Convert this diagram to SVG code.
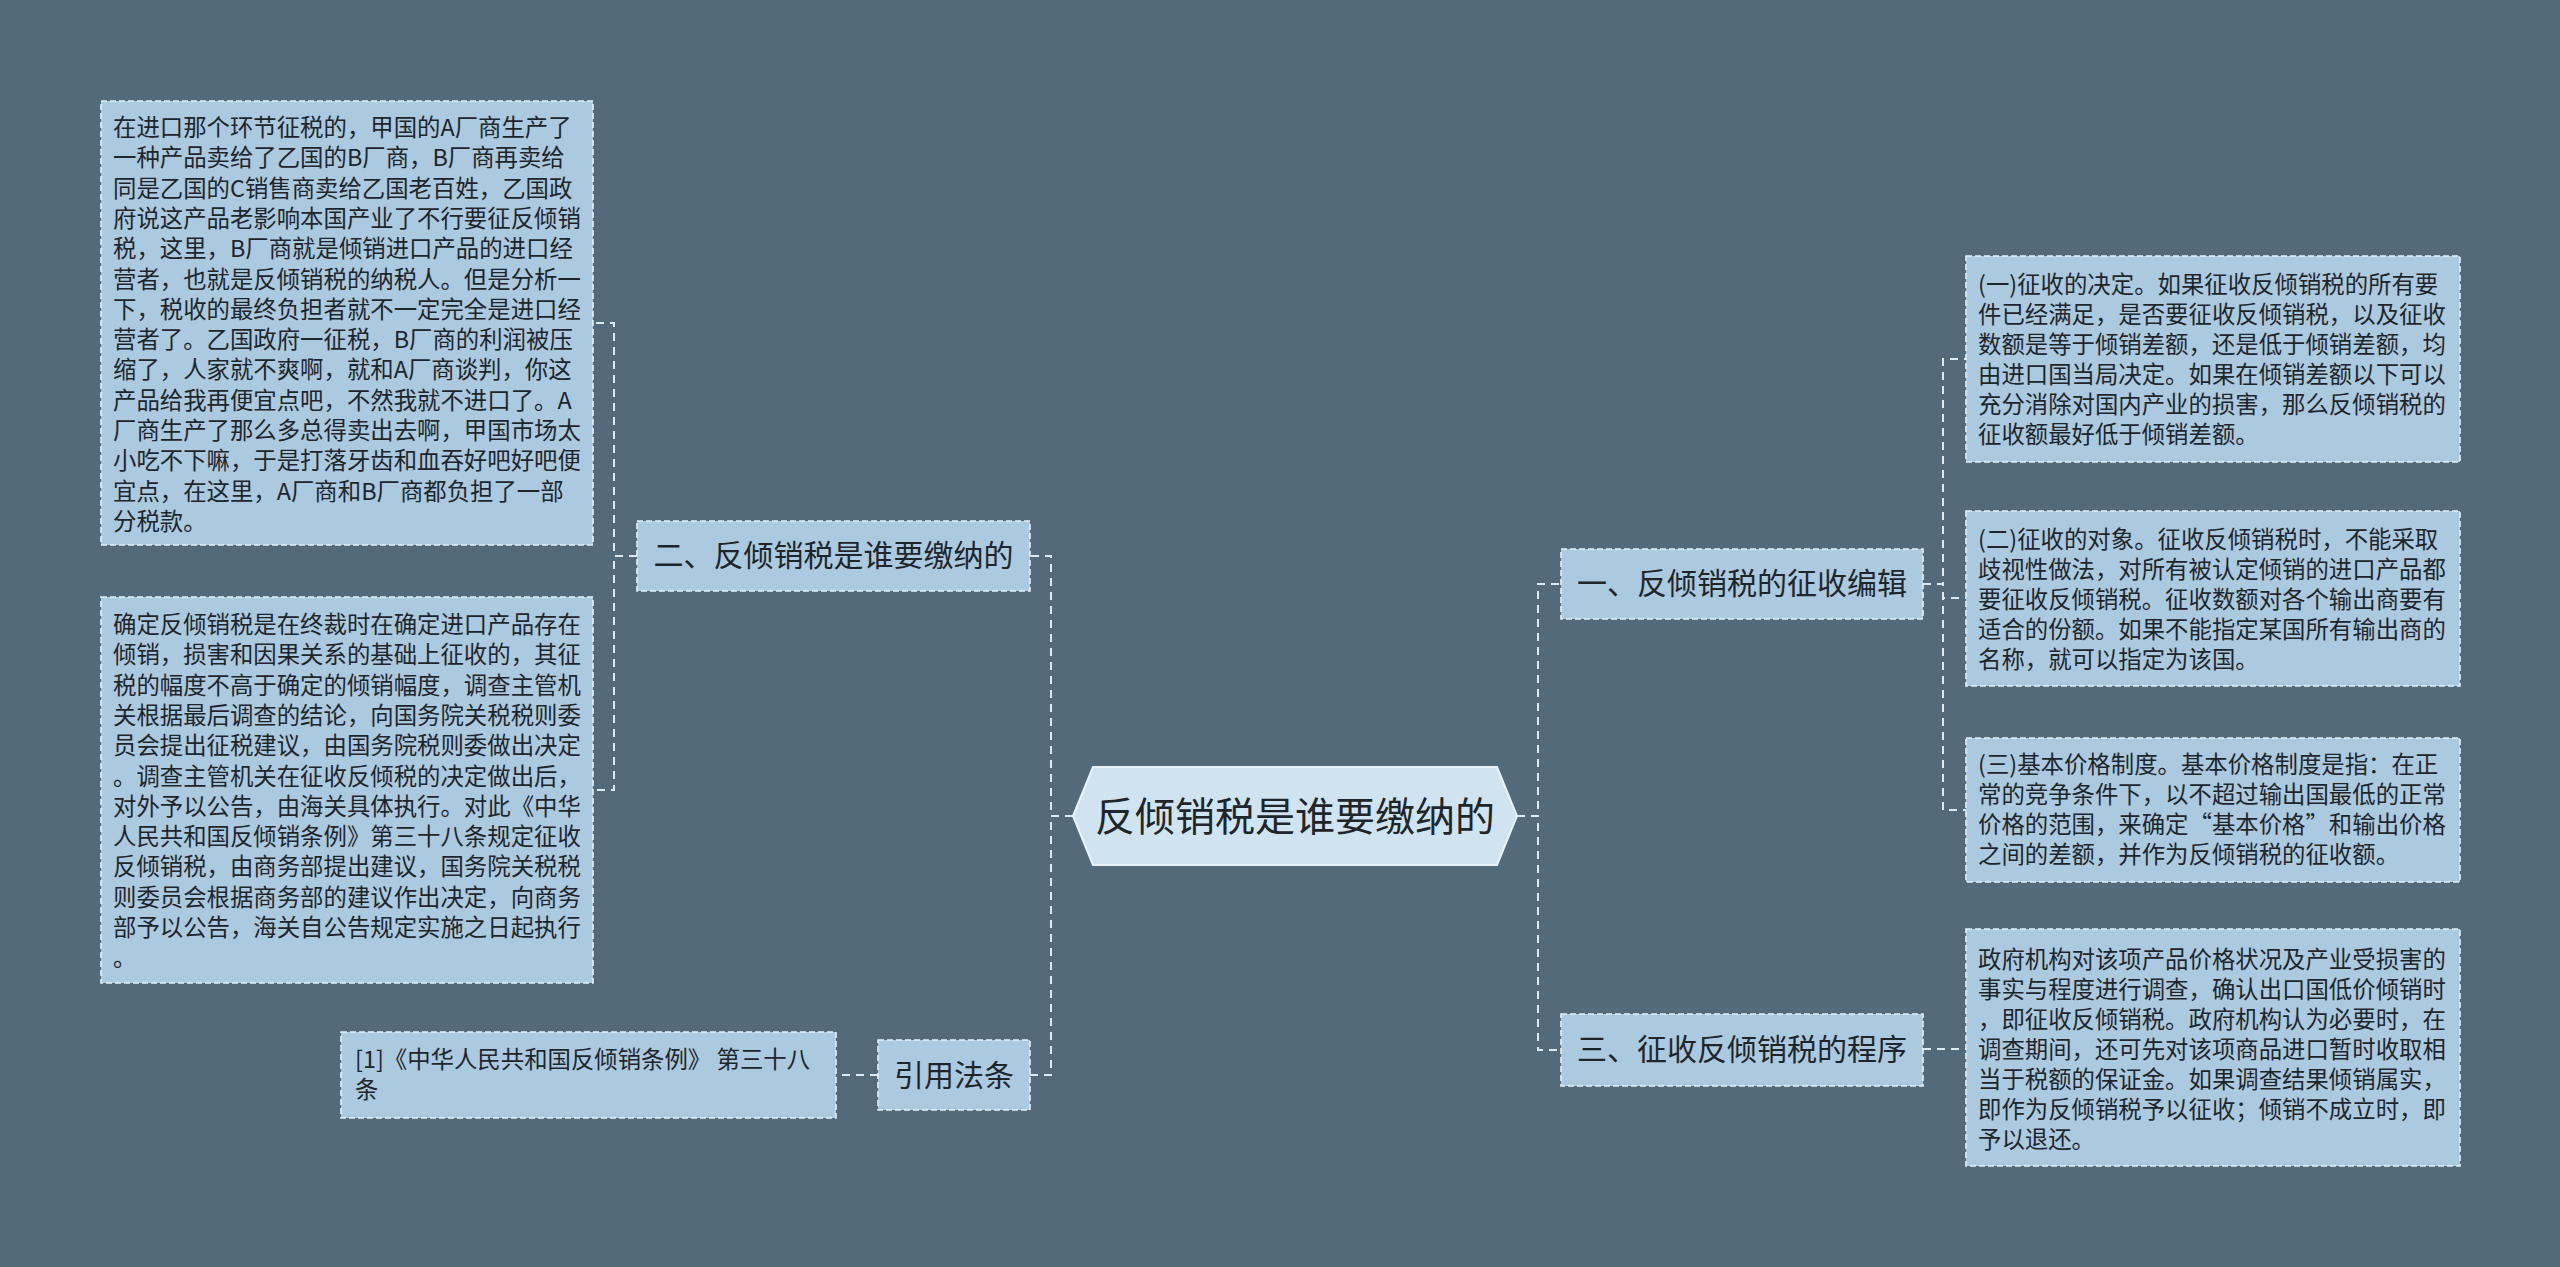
<svg xmlns="http://www.w3.org/2000/svg" width="2560" height="1267" viewBox="0 0 2560 1267">
<defs>
<style>
.bg{fill:#536a7a}
.box{fill:#abc9df;stroke:#e4f1f9;stroke-width:1.6;stroke-dasharray:6 3}
.hex{fill:#cfe4f0;stroke:#e8f3fa;stroke-width:2}
.t{font-family:"Noto Sans CJK SC","Microsoft YaHei",sans-serif;fill:#1e262c}
.s{font-size:23.4px}
.m{font-size:30px;text-anchor:middle}
.c{font-size:40px;text-anchor:middle}
.ln{fill:none;stroke:#dceaf4;stroke-width:2;stroke-dasharray:8 6}
</style>
</defs>
<rect class="bg" x="0" y="0" width="2560" height="1267"/>

<g id="connectors">
<path class="ln" d="M1073,816 H1051 V556 H1030"/>
<path class="ln" d="M1073,816 H1051 V1075 H1030"/>
<path class="ln" d="M637,556 H614 V323 H593"/>
<path class="ln" d="M637,556 H614 V790 H593"/>
<path class="ln" d="M878,1075 H836"/>
<path class="ln" d="M1517,816 H1538 V584 H1561"/>
<path class="ln" d="M1517,816 H1538 V1050 H1561"/>
<path class="ln" d="M1923,584 H1943 V359 H1966"/>
<path class="ln" d="M1923,584 H1943 V598 H1966"/>
<path class="ln" d="M1923,584 H1943 V810 H1966"/>
<path class="ln" d="M1923,1049 H1966"/>
</g>

<g id="root">
<polygon class="hex" points="1073,816 1093,767 1497,767 1517,816 1497,865 1093,865"/>
<text class="t c" x="1295" y="831">反倾销税是谁要缴纳的</text>
</g>

<g id="n2">
<rect class="box" x="637" y="521" width="393" height="70"/>
<text class="t m" x="833.5" y="566">二、反倾销税是谁要缴纳的</text>
</g>

<g id="n2a">
<rect class="box" x="101" y="101" width="492" height="444"/>
<text class="t s" x="113" y="136">
<tspan x="113" dy="0">在进口那个环节征税的，甲国的A厂商生产了</tspan>
<tspan x="113" dy="30.3">一种产品卖给了乙国的B厂商，B厂商再卖给</tspan>
<tspan x="113" dy="30.3">同是乙国的C销售商卖给乙国老百姓，乙国政</tspan>
<tspan x="113" dy="30.3">府说这产品老影响本国产业了不行要征反倾销</tspan>
<tspan x="113" dy="30.3">税，这里，B厂商就是倾销进口产品的进口经</tspan>
<tspan x="113" dy="30.3">营者，也就是反倾销税的纳税人。但是分析一</tspan>
<tspan x="113" dy="30.3">下，税收的最终负担者就不一定完全是进口经</tspan>
<tspan x="113" dy="30.3">营者了。乙国政府一征税，B厂商的利润被压</tspan>
<tspan x="113" dy="30.3">缩了，人家就不爽啊，就和A厂商谈判，你这</tspan>
<tspan x="113" dy="30.3">产品给我再便宜点吧，不然我就不进口了。A</tspan>
<tspan x="113" dy="30.3">厂商生产了那么多总得卖出去啊，甲国市场太</tspan>
<tspan x="113" dy="30.3">小吃不下嘛，于是打落牙齿和血吞好吧好吧便</tspan>
<tspan x="113" dy="30.3">宜点，在这里，A厂商和B厂商都负担了一部</tspan>
<tspan x="113" dy="30.3">分税款。</tspan>
</text>
</g>

<g id="n2b">
<rect class="box" x="101" y="597" width="492" height="386"/>
<text class="t s" x="113" y="633">
<tspan x="113" dy="0">确定反倾销税是在终裁时在确定进口产品存在</tspan>
<tspan x="113" dy="30.3">倾销，损害和因果关系的基础上征收的，其征</tspan>
<tspan x="113" dy="30.3">税的幅度不高于确定的倾销幅度，调查主管机</tspan>
<tspan x="113" dy="30.3">关根据最后调查的结论，向国务院关税税则委</tspan>
<tspan x="113" dy="30.3">员会提出征税建议，由国务院税则委做出决定</tspan>
<tspan x="113" dy="30.3">。调查主管机关在征收反倾税的决定做出后，</tspan>
<tspan x="113" dy="30.3">对外予以公告，由海关具体执行。对此《中华</tspan>
<tspan x="113" dy="30.3">人民共和国反倾销条例》第三十八条规定征收</tspan>
<tspan x="113" dy="30.3">反倾销税，由商务部提出建议，国务院关税税</tspan>
<tspan x="113" dy="30.3">则委员会根据商务部的建议作出决定，向商务</tspan>
<tspan x="113" dy="30.3">部予以公告，海关自公告规定实施之日起执行</tspan>
<tspan x="113" dy="30.3">。</tspan>
</text>
</g>

<g id="n4">
<rect class="box" x="878" y="1040" width="152" height="70"/>
<text class="t m" x="954" y="1086">引用法条</text>
</g>

<g id="n4a">
<rect class="box" x="341" y="1032" width="495" height="86"/>
<text class="t s" x="355" y="1068">
<tspan x="355" dy="0">[1]《中华人民共和国反倾销条例》 第三十八</tspan>
<tspan x="355" dy="30">条</tspan>
</text>
</g>

<g id="n1">
<rect class="box" x="1561" y="549" width="362" height="70"/>
<text class="t m" x="1742" y="594">一、反倾销税的征收编辑</text>
</g>

<g id="n1a">
<rect class="box" x="1966" y="256" width="494" height="206"/>
<text class="t s" x="1978" y="293">
<tspan x="1978" dy="0">(一)征收的决定。如果征收反倾销税的所有要</tspan>
<tspan x="1978" dy="30">件已经满足，是否要征收反倾销税，以及征收</tspan>
<tspan x="1978" dy="30">数额是等于倾销差额，还是低于倾销差额，均</tspan>
<tspan x="1978" dy="30">由进口国当局决定。如果在倾销差额以下可以</tspan>
<tspan x="1978" dy="30">充分消除对国内产业的损害，那么反倾销税的</tspan>
<tspan x="1978" dy="30">征收额最好低于倾销差额。</tspan>
</text>
</g>

<g id="n1b">
<rect class="box" x="1966" y="511" width="494" height="175"/>
<text class="t s" x="1978" y="548">
<tspan x="1978" dy="0">(二)征收的对象。征收反倾销税时，不能采取</tspan>
<tspan x="1978" dy="30">歧视性做法，对所有被认定倾销的进口产品都</tspan>
<tspan x="1978" dy="30">要征收反倾销税。征收数额对各个输出商要有</tspan>
<tspan x="1978" dy="30">适合的份额。如果不能指定某国所有输出商的</tspan>
<tspan x="1978" dy="30">名称，就可以指定为该国。</tspan>
</text>
</g>

<g id="n1c">
<rect class="box" x="1966" y="738" width="494" height="144"/>
<text class="t s" x="1978" y="773">
<tspan x="1978" dy="0">(三)基本价格制度。基本价格制度是指：在正</tspan>
<tspan x="1978" dy="30">常的竞争条件下，以不超过输出国最低的正常</tspan>
<tspan x="1978" dy="30">价格的范围，来确定“基本价格”和输出价格</tspan>
<tspan x="1978" dy="30">之间的差额，并作为反倾销税的征收额。</tspan>
</text>
</g>

<g id="n3">
<rect class="box" x="1561" y="1014" width="362" height="72"/>
<text class="t m" x="1742" y="1060">三、征收反倾销税的程序</text>
</g>

<g id="n3a">
<rect class="box" x="1966" y="929" width="494" height="237"/>
<text class="t s" x="1978" y="968">
<tspan x="1978" dy="0">政府机构对该项产品价格状况及产业受损害的</tspan>
<tspan x="1978" dy="30">事实与程度进行调查，确认出口国低价倾销时</tspan>
<tspan x="1978" dy="30">，即征收反倾销税。政府机构认为必要时，在</tspan>
<tspan x="1978" dy="30">调查期间，还可先对该项商品进口暂时收取相</tspan>
<tspan x="1978" dy="30">当于税额的保证金。如果调查结果倾销属实，</tspan>
<tspan x="1978" dy="30">即作为反倾销税予以征收；倾销不成立时，即</tspan>
<tspan x="1978" dy="30">予以退还。</tspan>
</text>
</g>
</svg>
